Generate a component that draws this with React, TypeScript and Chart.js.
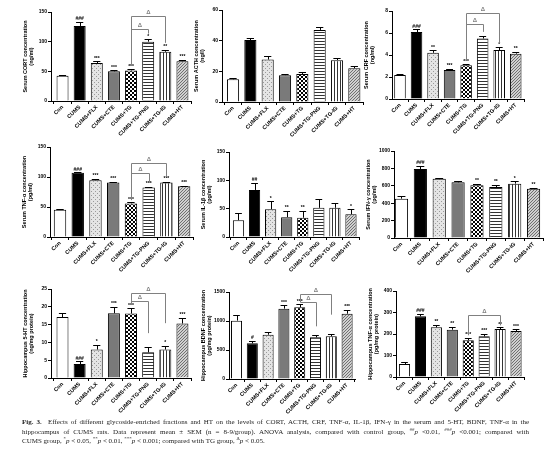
import React, { useEffect, useRef } from 'react';
import { Chart, registerables } from 'chart.js';
Chart.register(...registerables);

// ---------- data ----------
const categories = ['Con', 'CUMS', 'CUMS+FLX', 'CUMS+CTE', 'CUMS+TG', 'CUMS+TG-PNG', 'CUMS+TG-IG', 'CUMS+HT'];

const cortMean = [42.5, 126.5, 64, 50, 51.5, 100, 83, 67];
const cortSem = [2, 7, 3, 2, 2, 4, 3, 2];
const cortMarks = ['', '###', '***', '***', '***', '*', '**', '***'];
const cortTicks = [0, 50, 100, 150];
const cortBrackets = [[4, 6, 143, 60, 98], [4, 5, 122, 60, 113.6]];

const acthMean = [14.8, 40.4, 27.7, 17.5, 18.3, 47, 27.3, 22];
const acthSem = [0.8, 1.6, 2, 0.9, 1.1, 2, 1.6, 1.2];
const acthMarks = ['', '', '', '', '', '', '', ''];
const acthTicks = [0, 20, 40, 60];
const acthBrackets: number[][] = [];

const crfMean = [2.18, 6.09, 4.2, 2.64, 3.06, 5.5, 4.45, 4.12];
const crfSem = [0.05, 0.25, 0.22, 0.1, 0.1, 0.2, 0.25, 0.18];
const crfMarks = ['', '###', '**', '***', '***', '', '*', '**'];
const crfTicks = [0, 2, 4, 6, 8];
const crfBrackets = [[4, 6, 7.79, 3.5, 5.06], [4, 5, 6.79, 3.5, 6.1]];

const tnfSerumMean = [45.3, 106.9, 94.6, 90.7, 56, 82.3, 90.7, 84.5];
const tnfSerumSem = [1, 1, 2.5, 1.5, 2, 1.5, 1.5, 1];
const tnfSerumMarks = ['', '###', '***', '***', '***', '***', '***', '***'];
const tnfSerumTicks = [0, 50, 100, 150];
const tnfSerumBrackets = [[4, 6, 123, 61.5, 100.7], [4, 5, 106, 61.5, 90.6]];

const il1bMean = [29.6, 83, 49, 35, 34, 51.5, 51.5, 40];
const il1bSem = [13, 13, 14, 11, 12, 16, 8, 9];
const il1bMarks = ['', '##', '*', '**', '**', '', '', '*'];
const il1bTicks = [0, 50, 100, 150];
const il1bBrackets: number[][] = [];

const ifnMean = [452, 793, 682, 640, 605, 586, 625, 567];
const ifnSem = [30, 35, 10, 20, 15, 25, 25, 10];
const ifnMarks = ['', '###', '', '', '**', '**', '*', '**'];
const ifnTicks = [0, 200, 400, 600, 800, 1000];
const ifnBrackets: number[][] = [];

const ht5Mean = [17.1, 3.9, 8, 18.2, 18.1, 7.2, 8, 15.3];
const ht5Sem = [1.1, 0.8, 1.4, 1.8, 1.5, 1.4, 1.1, 1.6];
const ht5Marks = ['', '###', '*', '***', '***', '', '*', '***'];
const ht5Ticks = [0, 5, 10, 15, 20, 25];
const ht5Brackets = [[4, 6, 23.9, 20.6, 15.4], [4, 5, 21.5, 20.6, 12.6]];

const bdnfMean = [1006, 615, 764, 1213, 1236, 718, 736, 1126];
const bdnfSem = [98, 45, 40, 60, 50, 40, 40, 70];
const bdnfMarks = ['', '#', '', '***', '***', '', '', '***'];
const bdnfTicks = [0, 500, 1000, 1500];
const bdnfBrackets = [[4, 6, 1465, 1322, 1109], [4, 5, 1322, 1322, 908]];

const tnfHipMean = [60, 282, 231, 220, 171, 189, 223, 214];
const tnfHipSem = [8, 12, 12, 12, 10, 12, 8, 8];
const tnfHipMarks = ['', '###', '**', '**', '***', '***', '**', '***'];
const tnfHipTicks = [0, 100, 200, 300, 400];
const tnfHipBrackets = [[4, 6, 290, 194, 240]];

type Panel = {
  title: string[];
  mean: number[];
  sem: number[];
  marks: string[];
  ticks: number[];
  brackets: number[][];
};

const panels: Panel[] = [
  { title: ['Serum CORT concentration', '(ng/ml)'], mean: cortMean, sem: cortSem, marks: cortMarks, ticks: cortTicks, brackets: cortBrackets },
  { title: ['Serum ACTH concentration', '(ng/l)'], mean: acthMean, sem: acthSem, marks: acthMarks, ticks: acthTicks, brackets: acthBrackets },
  { title: ['Serum CRF concentration', '(ng/ml)'], mean: crfMean, sem: crfSem, marks: crfMarks, ticks: crfTicks, brackets: crfBrackets },
  { title: ['Serum TNF-α concentration', '(pg/ml)'], mean: tnfSerumMean, sem: tnfSerumSem, marks: tnfSerumMarks, ticks: tnfSerumTicks, brackets: tnfSerumBrackets },
  { title: ['Serum IL-1β concentration', '(pg/ml)'], mean: il1bMean, sem: il1bSem, marks: il1bMarks, ticks: il1bTicks, brackets: il1bBrackets },
  { title: ['Serum IFN-γ concentration', '(pg/ml)'], mean: ifnMean, sem: ifnSem, marks: ifnMarks, ticks: ifnTicks, brackets: ifnBrackets },
  { title: ['Hippocampus 5-HT concentration', '(ng/mg protein)'], mean: ht5Mean, sem: ht5Sem, marks: ht5Marks, ticks: ht5Ticks, brackets: ht5Brackets },
  { title: ['Hippocampus BDNF concentration', '(pg/mg protein)'], mean: bdnfMean, sem: bdnfSem, marks: bdnfMarks, ticks: bdnfTicks, brackets: bdnfBrackets },
  { title: ['Hippocampus TNF-α concentration', '(pg/mg protein)'], mean: tnfHipMean, sem: tnfHipSem, marks: tnfHipMarks, ticks: tnfHipTicks, brackets: tnfHipBrackets },
];

// ---------- layout (pixel geometry of each panel) ----------
// ax: y-axis line x, top: y of max tick, zero: y of zero, c0/c7: centres of first/last bars
const layouts = [
  { ax: 51, top: 12, zero: 101, c0: 62.5, c7: 182 },
  { ax: 222, top: 10, zero: 102, c0: 233, c7: 354 },
  { ax: 392, top: 11, zero: 99, c0: 400, c7: 516 },
  { ax: 50, top: 147, zero: 237, c0: 60, c7: 184 },
  { ax: 229, top: 152, zero: 237, c0: 238.5, c7: 351 },
  { ax: 394, top: 151, zero: 238, c0: 401.5, c7: 534 },
  { ax: 51, top: 289, zero: 378, c0: 62.5, c7: 182.5 },
  { ax: 229, top: 292, zero: 379, c0: 236.5, c7: 347 },
  { ax: 396, top: 291, zero: 377, c0: 404.5, c7: 516 },
];

const YW = 29;
const XH = 48;
const PT = 14;
const PR = 4;
const FONT = '"Liberation Sans", Arial, sans-serif';

function makeTile(w: number, h: number, draw: (c: CanvasRenderingContext2D) => void) {
  const cv = document.createElement('canvas');
  cv.width = w;
  cv.height = h;
  const c = cv.getContext('2d')!;
  draw(c);
  return cv;
}

function makeFills(ctx: CanvasRenderingContext2D) {
  const dots = makeTile(4, 4, (c) => {
    c.fillStyle = '#e4e4e4';
    c.fillRect(0, 0, 4, 4);
    c.fillStyle = '#9a9a9a';
    c.fillRect(0, 0, 1, 1);
    c.fillRect(2, 2, 1, 1);
  });
  const checker = makeTile(4, 4, (c) => {
    c.fillStyle = '#fff';
    c.fillRect(0, 0, 4, 4);
    c.fillStyle = '#000';
    c.fillRect(0, 0, 2, 2);
    c.fillRect(2, 2, 2, 2);
  });
  const hstripe = makeTile(4, 3, (c) => {
    c.fillStyle = '#fff';
    c.fillRect(0, 0, 4, 3);
    c.fillStyle = '#333';
    c.fillRect(0, 0, 4, 1);
  });
  const vstripe = makeTile(3, 4, (c) => {
    c.fillStyle = '#fff';
    c.fillRect(0, 0, 3, 4);
    c.fillStyle = '#333';
    c.fillRect(0, 0, 1, 4);
  });
  const diag = makeTile(3, 3, (c) => {
    c.fillStyle = '#d0d0d0';
    c.fillRect(0, 0, 3, 3);
    c.fillStyle = '#707070';
    c.fillRect(0, 2, 1, 1);
    c.fillRect(1, 1, 1, 1);
    c.fillRect(2, 0, 1, 1);
  });
  return [
    '#ffffff',
    '#000000',
    ctx.createPattern(dots, 'repeat'),
    '#7a7a7a',
    ctx.createPattern(checker, 'repeat'),
    ctx.createPattern(hstripe, 'repeat'),
    ctx.createPattern(vstripe, 'repeat'),
    ctx.createPattern(diag, 'repeat'),
  ];
}

function PanelChart({ panel, lay }: { panel: Panel; lay: (typeof layouts)[number] }) {
  const ref = useRef<HTMLCanvasElement | null>(null);
  const spacing = (lay.c7 - lay.c0) / 7;
  const xMin = -(lay.c0 - lay.ax) / spacing;
  const xMax = 7.5;
  const right = lay.c7 + 0.5 * spacing;
  const left = lay.ax - YW;
  const top = lay.top - PT;
  const width = Math.round(right - left + PR);
  const height = Math.round(lay.zero + XH - top);

  useEffect(() => {
    const canvas = ref.current!;
    const ctx = canvas.getContext('2d')!;
    const fills = makeFills(ctx);
    const ymax = panel.ticks[panel.ticks.length - 1];

    const annot = {
      id: 'annot',
      afterDatasetsDraw(chart: any) {
        const c = chart.ctx;
        const ys = chart.scales.y;
        const meta = chart.getDatasetMeta(0);
        c.save();
        // error bars + marks
        meta.data.forEach((el: any, i: number) => {
          const yTop = ys.getPixelForValue(panel.mean[i] + panel.sem[i]);
          const cap = el.width * 0.3;
          c.strokeStyle = '#000';
          c.lineWidth = 1;
          c.beginPath();
          c.moveTo(Math.round(el.x) + 0.5, el.y);
          c.lineTo(Math.round(el.x) + 0.5, Math.round(yTop) + 0.5);
          c.moveTo(el.x - cap, Math.round(yTop) + 0.5);
          c.lineTo(el.x + cap, Math.round(yTop) + 0.5);
          c.stroke();
          if (panel.marks[i]) {
            c.fillStyle = '#000';
            c.font = `bold 5px ${FONT}`;
            c.textAlign = 'center';
            c.textBaseline = 'bottom';
            c.fillText(panel.marks[i], el.x, yTop - 0.5);
          }
        });
        // brackets
        panel.brackets.forEach((b) => {
          const [from, to, level, lEnd, rEnd] = b;
          const x1 = Math.round(meta.data[from].x) + 0.5;
          const x2 = Math.round(meta.data[to].x) + 0.5;
          const yl = Math.round(ys.getPixelForValue(level)) + 0.5;
          c.strokeStyle = '#808080';
          c.lineWidth = 1;
          c.beginPath();
          c.moveTo(x1, ys.getPixelForValue(lEnd));
          c.lineTo(x1, yl);
          c.lineTo(x2, yl);
          c.lineTo(x2, ys.getPixelForValue(rEnd));
          c.stroke();
          c.fillStyle = '#808080';
          c.font = `bold 6px ${FONT}`;
          c.textAlign = 'center';
          c.textBaseline = 'bottom';
          c.fillText('Δ', (x1 + x2) / 2, yl - 1);
        });
        c.restore();
      },
    };

    const chart = new Chart(canvas, {
      type: 'bar',
      data: {
        datasets: [
          {
            data: panel.mean.map((v, i) => ({ x: i, y: v })),
            backgroundColor: fills as any,
            borderColor: '#000',
            borderWidth: 1,
            barPercentage: 0.7,
            categoryPercentage: 1,
          },
        ],
      },
      options: {
        responsive: false,
        animation: false,
        devicePixelRatio: 1,
        layout: { padding: { top: PT, right: PR, left: 0, bottom: 0 } },
        plugins: { legend: { display: false }, tooltip: { enabled: false } },
        scales: {
          x: {
            type: 'linear',
            min: xMin,
            max: xMax,
            offset: false,
            afterBuildTicks: (s: any) => {
              s.ticks = categories.map((_, i) => ({ value: i }));
            },
            afterFit: (s: any) => {
              s.height = XH;
            },
            ticks: {
              autoSkip: false,
              minRotation: 45,
              maxRotation: 45,
              padding: 0,
              color: '#000',
              font: { family: FONT, size: 5.5, weight: 'bold' },
              callback: (v: any) => categories[v] ?? '',
            },
            grid: { display: true, drawOnChartArea: false, drawTicks: true, tickLength: 3, color: '#000', lineWidth: 1 },
            border: { display: true, color: '#000', width: 1 },
          },
          y: {
            min: 0,
            max: ymax,
            afterBuildTicks: (s: any) => {
              s.ticks = panel.ticks.map((v) => ({ value: v }));
            },
            afterFit: (s: any) => {
              s.width = YW;
            },
            ticks: {
              padding: 1,
              color: '#000',
              font: { family: FONT, size: 5, weight: 'bold' },
              callback: (v: any) => String(v),
            },
            grid: { display: true, drawOnChartArea: false, drawTicks: true, tickLength: 3, color: '#000', lineWidth: 1 },
            border: { display: true, color: '#000', width: 1 },
            title: {
              display: true,
              text: panel.title,
              color: '#000',
              padding: { top: 0, bottom: 0 },
              font: { family: FONT, size: 5.5, weight: 'bold', lineHeight: 1.15 },
            },
          },
        },
      },
      plugins: [annot],
    });
    return () => chart.destroy();
  }, []);

  return (
    <canvas
      ref={ref}
      width={width}
      height={height}
      style={{ position: 'absolute', left, top, width, height }}
    />
  );
}

const supStyle: React.CSSProperties = { fontSize: 5, lineHeight: 0, verticalAlign: 'super' };

export default function App() {
  return (
    <div style={{ position: 'fixed', left: 0, top: 0, width: 550, height: 460, background: '#fff', overflow: 'hidden' }}>
      {panels.map((p, i) => (
        <PanelChart key={i} panel={p} lay={layouts[i]} />
      ))}
      <div
        style={{
          position: 'absolute',
          left: 22,
          top: 418,
          width: 507,
          fontFamily: '"Liberation Serif", "Times New Roman", serif',
          fontSize: 7,
          lineHeight: '9.6px',
          color: '#222',
        }}
      >
        <div style={{ textAlign: 'justify', textAlignLast: 'justify', whiteSpace: 'nowrap' as any }}>
          <b>Fig. 3.</b>&nbsp;&nbsp;Effects of different glycoside-enriched fractions and HT on the levels of CORT, ACTH, CRF, TNF-α, IL-1β, IFN-γ in the serum and 5-HT, BDNF, TNF-α in the
        </div>
        <div style={{ textAlign: 'justify', textAlignLast: 'justify' }}>
          hippocampus of CUMS rats. Data represent mean ± SEM (n = 8-9/group). ANOVA analysis, compared with control group, <sup style={supStyle}>##</sup><i>p</i> &lt;0.01, <sup style={supStyle}>###</sup><i>p</i> &lt;0.001; compared with
        </div>
        <div>
          CUMS group, <sup style={supStyle}>*</sup><i>p</i> &lt; 0.05, <sup style={supStyle}>**</sup><i>p</i> &lt; 0.01, <sup style={supStyle}>***</sup><i>p</i> &lt; 0.001; compared with TG group, <sup style={supStyle}>Δ</sup><i>p</i> &lt; 0.05.
        </div>
      </div>
    </div>
  );
}
